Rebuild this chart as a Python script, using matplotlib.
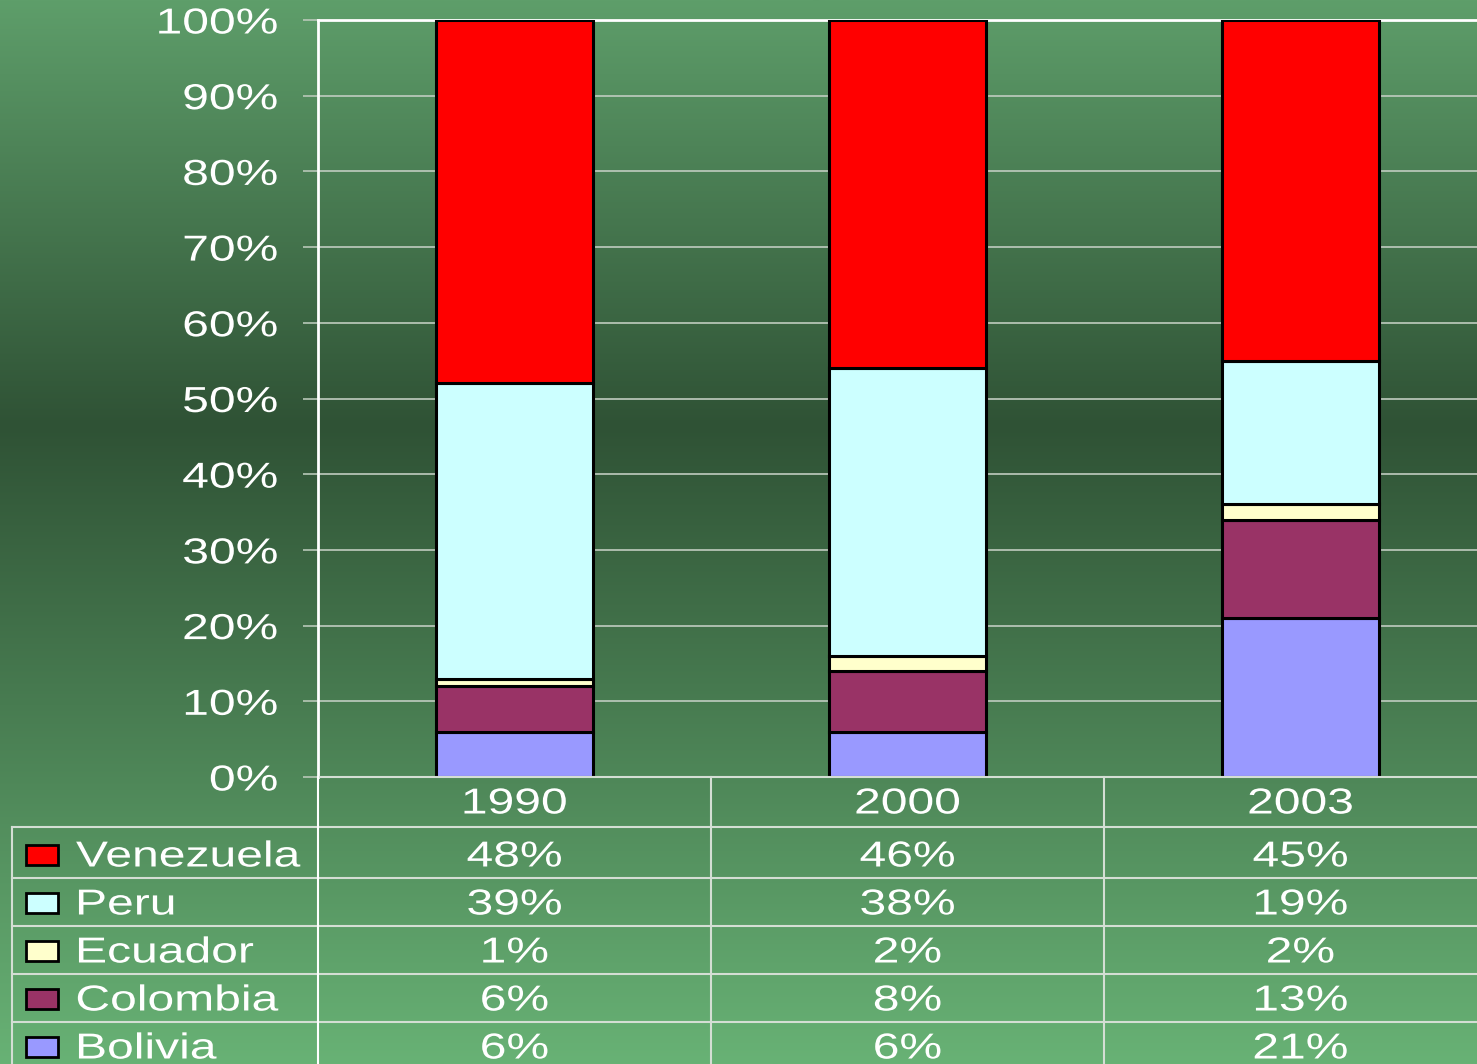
# Stacked 100% bar chart with data table, green gradient slide background
import matplotlib
matplotlib.use('Agg')
import matplotlib.pyplot as plt
import numpy as np
from matplotlib.patches import Rectangle
from matplotlib.patheffects import AbstractPathEffect
from matplotlib.transforms import Affine2D

years = ['1990', '2000', '2003']
countries = ['Venezuela', 'Peru', 'Ecuador', 'Colombia', 'Bolivia']
venezuela = [48, 46, 45]
peru = [39, 38, 19]
ecuador = [1, 2, 2]
colombia = [6, 8, 13]
bolivia = [6, 6, 21]
colors = ['#FF0000', '#CCFFFF', '#FFFFCC', '#993366', '#9999FF']
yticks = list(range(0, 101, 10))


class HStretch(AbstractPathEffect):
    """Draws text widened horizontally (the slide font is stretched)."""

    def __init__(self, sx=1.33, anchor='center'):
        super().__init__()
        self.sx = sx
        self.anchor = anchor

    def draw_path(self, renderer, gc, tpath, affine, rgbFace=None):
        ext = tpath.get_extents()
        if self.anchor == 'right':
            cx = ext.x1
        elif self.anchor == 'left':
            cx = ext.x0
        else:
            cx = (ext.x0 + ext.x1) / 2
        t = Affine2D().translate(-cx, 0).scale(self.sx, 1).translate(cx, 0) + affine
        renderer.draw_path(gc, tpath, t, rgbFace)


W, H = 1477, 1064
plt.rcParams['font.family'] = ['Liberation Sans', 'DejaVu Sans']
fs = 26
fig = plt.figure(figsize=(W / 100, H / 100), dpi=100)

# background gradient
bg = fig.add_axes([0, 0, 1, 1], zorder=0)
stops = [0.0, 0.40, 1.0]
cols = np.array([[94, 158, 106], [47, 82, 53], [104, 178, 117]]) / 255
t = np.linspace(0, 1, 400)
grad = np.stack([np.interp(t, stops, cols[:, k]) for k in range(3)], axis=1)
bg.imshow(grad[:, None, :], aspect='auto', extent=[0, 1, 0, 1])
bg.axis('off')

# plot area
cw = 393
x0, ytop, ybot = 318, 20, 777
ax = fig.add_axes([x0 / W, (H - ybot) / H, 3 * cw / W, (ybot - ytop) / H], zorder=2)
ax.patch.set_alpha(0)
series = [bolivia, colombia, ecuador, peru, venezuela]
sc = colors[::-1]
x = np.arange(len(years))
bottom = np.zeros(len(years))
for vals, c in zip(series, sc):
    ax.bar(x, vals, width=0.4, bottom=bottom, color=c, edgecolor='black',
           linewidth=2.2, zorder=3)
    bottom += np.array(vals)
ax.set_xlim(-0.5, 2.5)
ax.set_ylim(0, 100)
ax.set_yticks(yticks)
ax.set_yticklabels([f'{v}%' for v in yticks], color='white', fontsize=fs)
for lab in ax.get_yticklabels():
    lab.set_path_effects([HStretch(anchor='right')])
ax.tick_params(axis='y', length=11, width=1.2, color='#b8c8b8', pad=18)
ax.set_xticks([])
ax.yaxis.grid(True, color='#c0ccc0', linewidth=1.2, zorder=1)
ax.set_axisbelow(True)
for s in ['right', 'bottom']:
    ax.spines[s].set_visible(False)
ax.spines['left'].set_color('white')
ax.spines['left'].set_linewidth(2)
ax.spines['top'].set_color('white')
ax.spines['top'].set_linewidth(2)

# data table below the plot (pixel coordinates)
tb = fig.add_axes([0, 0, 1, 1], zorder=3)
tb.set_xlim(0, W)
tb.set_ylim(H, 0)
tb.axis('off')
lc = '#d4ded4'
rows = [827, 878, 926, 974, 1022]
tb.plot([x0, W], [ybot, ybot], color=lc, lw=1.5)
for r in rows:
    tb.plot([12, W], [r, r], color=lc, lw=1.5)
tb.plot([12, 12], [rows[0], H], color=lc, lw=1.5)
tb.plot([x0, x0], [ybot, H], color='white', lw=1.5)
for i in range(1, 3):
    tb.plot([x0 + i * cw, x0 + i * cw], [ybot, H], color=lc, lw=1.5)

center = [HStretch(anchor='center')]
for i, yr in enumerate(years):
    tb.text(x0 + (i + 0.5) * cw, 804, yr, color='white', fontsize=fs,
            ha='center', va='center', path_effects=center)

table_vals = [venezuela, peru, ecuador, colombia, bolivia]
row_c = [857, 905, 953, 1001, 1049]
for name, vals, c, yc in zip(countries, table_vals, colors, row_c):
    tb.add_patch(Rectangle((26, yc - 12), 32, 20, facecolor=c, edgecolor='black', lw=2))
    tb.text(76, yc, name, color='white', fontsize=fs, ha='left', va='center',
            path_effects=[HStretch(anchor='left')])
    for i, v in enumerate(vals):
        tb.text(x0 + (i + 0.5) * cw, yc, f'{v}%', color='white', fontsize=fs,
                ha='center', va='center', path_effects=center)

fig.savefig('out.png', dpi=100)
